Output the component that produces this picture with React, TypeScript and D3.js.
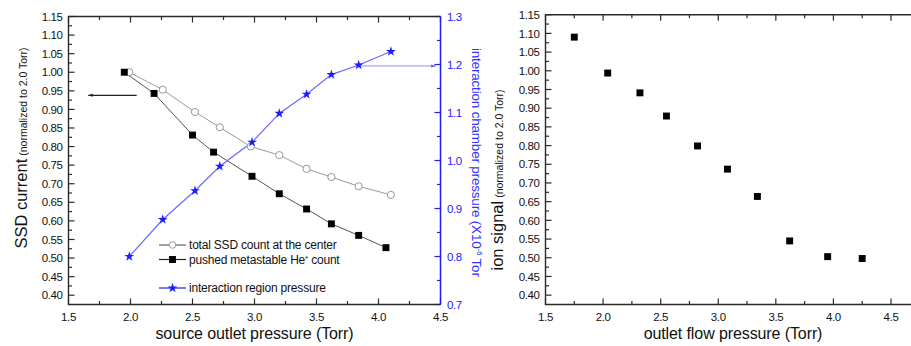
import React from "react";
import * as d3 from "d3";

// ---- data (left panel) ----
const totalX = [1.99, 2.26, 2.52, 2.72, 2.97, 3.2, 3.42, 3.62, 3.84, 4.1];
const totalSSD = [1.0, 0.953, 0.893, 0.852, 0.8, 0.777, 0.74, 0.718, 0.693, 0.67];
const pushedX = [1.95, 2.19, 2.5, 2.67, 2.98, 3.2, 3.42, 3.62, 3.84, 4.06];
const pushedHe = [1.0, 0.943, 0.831, 0.785, 0.72, 0.673, 0.632, 0.592, 0.561, 0.528];
const pressX = [1.99, 2.26, 2.52, 2.72, 2.98, 3.2, 3.42, 3.62, 3.84, 4.1];
const pressure = [0.8, 0.877, 0.937, 0.988, 1.038, 1.098, 1.138, 1.179, 1.199, 1.227];
// ---- data (right panel) ----
const outletX = [1.75, 2.04, 2.32, 2.55, 2.82, 3.08, 3.34, 3.62, 3.95, 4.25];
const ionSignal = [1.09, 0.994, 0.941, 0.879, 0.799, 0.737, 0.664, 0.545, 0.503, 0.498];
// ---- ticks / labels ----
const xTicks = [1.5, 2.0, 2.5, 3.0, 3.5, 4.0, 4.5];
const yTicks = [0.4, 0.45, 0.5, 0.55, 0.6, 0.65, 0.7, 0.75, 0.8, 0.85, 0.9, 0.95, 1.0, 1.05, 1.1, 1.15];
const y2Ticks = [0.7, 0.8, 0.9, 1.0, 1.1, 1.2, 1.3];
const legendLabels = ["total SSD count at the center", "pushed metastable He", "interaction region pressure"];
// arrows: [x from, x to, y]
const leftArrow = [2.05, 1.66, 0.938];
const blueArrow = [3.84, 4.46, 1.197];

const FONT = "'Liberation Sans', Arial, sans-serif";
const BLUE = "#1c1cff";
const AX = "#2a2a2a";

function range(a: number, b: number, s: number) {
  const out: number[] = [];
  for (let v = a; v <= b + 1e-9; v += s) out.push(+v.toFixed(4));
  return out;
}

export default function App() {
  // left panel scales
  const xL = d3.scaleLinear().domain([1.5, 4.5]).range([68.5, 440.5]);
  const yL = d3.scaleLinear().domain([0.375, 1.15]).range([304.5, 16.5]);
  const yR = d3.scaleLinear().domain([0.7, 1.3]).range([304.5, 16.5]);
  // right panel scales
  const x2 = d3.scaleLinear().domain([1.5, 4.5]).range([545.5, 891]);
  const y2 = d3.scaleLinear().domain([0.375, 1.15]).range([304.5, 14.7]);

  const sq = d3.symbol().type(d3.symbolSquare).size(48)()!;
  const star = d3.symbol().type(d3.symbolStar).size(30)()!;

  const lineL = (xs: number[], ys: number[], yS: any) =>
    d3.line<number>().x((_, i) => xL(xs[i])).y((v) => yS(v))(ys)!;

  const minorX = range(1.5, 4.5, 0.25);
  const minorY = range(0.4, 1.15, 0.025);
  const minorYR = range(0.7, 1.3, 0.05);

  const tickFont = { fontFamily: FONT, fontSize: 11.5, letterSpacing: -0.4 } as const;

  const xAxis = (xs: any, yTop: number, yBot: number, key: string) => (
    <g key={key}>
      {minorX.map((v) => {
        const major = Math.abs(v * 2 - Math.round(v * 2)) < 1e-6;
        const len = major ? 6 : 3.5;
        return (
          <g key={v}>
            <line x1={xs(v)} x2={xs(v)} y1={yBot} y2={yBot - len} stroke={AX} strokeWidth={1.2} />
            <line x1={xs(v)} x2={xs(v)} y1={yTop} y2={yTop + len} stroke={AX} strokeWidth={1.2} />
          </g>
        );
      })}
      {xTicks.map((v) => (
        <text key={v} x={xs(v)} y={yBot + 16.5} textAnchor="middle" fill="#111" {...tickFont}>
          {v.toFixed(1)}
        </text>
      ))}
    </g>
  );

  const yAxis = (ys: any, xLeft: number, key: string) => (
    <g key={key}>
      {minorY.map((v) => {
        const major = Math.abs(v * 20 - Math.round(v * 20)) < 1e-6;
        return (
          <line key={v} x1={xLeft} x2={xLeft + (major ? 6 : 3.5)} y1={ys(v)} y2={ys(v)} stroke={AX} strokeWidth={1.2} />
        );
      })}
      {yTicks.map((v) => (
        <text key={v} x={xLeft - 6} y={ys(v)} dy="0.36em" textAnchor="end" fill="#111" {...tickFont}>
          {v.toFixed(2)}
        </text>
      ))}
    </g>
  );

  const legX = 159;
  const legRows = [245, 259.5, 288];

  return (
    <div style={{ position: "fixed", left: 0, top: 0 }}>
      <svg width={911} height={346} style={{ display: "block", background: "#fff" }}>
        <defs>
          <marker id="arrBlack" viewBox="0 0 10 10" refX="9" refY="5" markerWidth="5" markerHeight="4" orient="auto">
            <path d="M0,2 L10,5 L0,8 z" fill="#222" />
          </marker>
          <marker id="arrBlue" viewBox="0 0 10 10" refX="9" refY="5" markerWidth="7" markerHeight="5" orient="auto">
            <path d="M0,2 L10,5 L0,8 z" fill="#6060ff" />
          </marker>
        </defs>

        {/* ===== LEFT PANEL ===== */}
        {xAxis(xL, 16.5, 304.5, "xl")}
        {yAxis(yL, 68.5, "yl")}
        {/* right blue axis */}
        {minorYR.map((v) => {
          const major = Math.abs(v * 10 - Math.round(v * 10)) < 1e-6;
          return (
            <line key={v} x1={440.5} x2={440.5 - (major ? 6 : 3.5)} y1={yR(v)} y2={yR(v)} stroke={BLUE} strokeWidth={1.2} />
          );
        })}
        {y2Ticks.map((v) => (
          <text key={v} x={447} y={yR(v)} dy="0.36em" fill={BLUE} {...tickFont}>
            {v.toFixed(1)}
          </text>
        ))}
        {/* frame */}
        <path d={`M440.5,16.5 H68.5 V304.5 H440.5`} fill="none" stroke={AX} strokeWidth={1.4} />
        <line x1={440.5} x2={440.5} y1={16.5} y2={304.5} stroke={BLUE} strokeWidth={1.5} />

        {/* series lines */}
        <path d={lineL(totalX, totalSSD, yL)} fill="none" stroke="#9a9a9a" strokeWidth={1} />
        <path d={lineL(pushedX, pushedHe, yL)} fill="none" stroke="#555" strokeWidth={1} />
        <path d={lineL(pressX, pressure, yR)} fill="none" stroke="#6a6aff" strokeWidth={1.2} />

        {/* arrows */}
        <line x1={xL(leftArrow[0])} x2={xL(leftArrow[1])} y1={yL(leftArrow[2])} y2={yL(leftArrow[2])} stroke="#222" strokeWidth={1.3} markerEnd="url(#arrBlack)" />
        <line x1={xL(blueArrow[0])} x2={xL(blueArrow[1])} y1={yR(blueArrow[2])} y2={yR(blueArrow[2])} stroke="#8c8cff" strokeWidth={1} markerEnd="url(#arrBlue)" />

        {/* markers */}
        {totalX.map((x, i) => (
          <circle key={"c" + i} cx={xL(x)} cy={yL(totalSSD[i])} r={3.6} fill="#fff" stroke="#999" strokeWidth={1} />
        ))}
        {pushedX.map((x, i) => (
          <path key={"s" + i} d={sq} transform={`translate(${xL(x)},${yL(pushedHe[i])})`} fill="#000" />
        ))}
        {pressX.map((x, i) => (
          <path key={"p" + i} d={star} transform={`translate(${xL(x)},${yR(pressure[i])})`} fill={BLUE} />
        ))}

        {/* legend */}
        <g fontFamily={FONT} fontSize={12} letterSpacing={-0.2} fill="#111">
          <line x1={legX} x2={legX + 27} y1={legRows[0]} y2={legRows[0]} stroke="#444" strokeWidth={1} />
          <circle cx={legX + 13.5} cy={legRows[0]} r={3.3} fill="#fff" stroke="#999" />
          <text x={legX + 30} y={legRows[0]} dy="0.36em">{legendLabels[0]}</text>
          <line x1={legX} x2={legX + 27} y1={legRows[1]} y2={legRows[1]} stroke="#222" strokeWidth={1.2} />
          <path d={sq} transform={`translate(${legX + 13.5},${legRows[1]})`} fill="#000" />
          <text x={legX + 30} y={legRows[1]} dy="0.36em">
            {legendLabels[1]}
            <tspan dy="-3" fontSize={8}>*</tspan>
            <tspan dy="3"> count</tspan>
          </text>
          <line x1={legX} x2={legX + 27} y1={legRows[2]} y2={legRows[2]} stroke={BLUE} strokeWidth={1.2} />
          <path d={star} transform={`translate(${legX + 13.5},${legRows[2]})`} fill={BLUE} />
          <text x={legX + 30} y={legRows[2]} dy="0.36em">{legendLabels[2]}</text>
        </g>

        {/* axis titles left */}
        <text x={254.5} y={338.5} textAnchor="middle" fontFamily={FONT} fontSize={16} fill="#111" letterSpacing={-0.1}>
          source outlet pressure (Torr)
        </text>
        <text transform="translate(26.5,148) rotate(-90)" textAnchor="middle" fontFamily={FONT} fill="#111">
          <tspan fontSize={16.5}>SSD current</tspan>
          <tspan fontSize={10.5} dx="3">(normalized to 2.0 Torr)</tspan>
        </text>
        <text transform="translate(472,48) rotate(90)" fontFamily={FONT} fontSize={13.5} fill="#3030ff" letterSpacing={-0.2}>
          interaction chamber pressure (X10
          <tspan dy="-5" fontSize={8}>-6</tspan>
          <tspan dy="5"> Tor</tspan>
        </text>

        {/* ===== RIGHT PANEL ===== */}
        {xAxis(x2, 14.7, 304.5, "x2")}
        {yAxis(y2, 545.5, "y2")}
        <path d={`M915,14.7 H545.5 V304.5 H915`} fill="none" stroke={AX} strokeWidth={1.4} />
        {outletX.map((x, i) => (
          <path key={"o" + i} d={sq} transform={`translate(${x2(x)},${y2(ionSignal[i])})`} fill="#000" />
        ))}
        <text x={733} y={338.5} textAnchor="middle" fontFamily={FONT} fontSize={16} fill="#111" letterSpacing={-0.1}>
          outlet flow pressure (Torr)
        </text>
        <text transform="translate(503,180) rotate(-90)" textAnchor="middle" fontFamily={FONT} fill="#111">
          <tspan fontSize={16.5}>ion signal</tspan>
          <tspan fontSize={10.5} dx="3">(normalized to 2.0 Torr)</tspan>
        </text>
      </svg>
    </div>
  );
}
